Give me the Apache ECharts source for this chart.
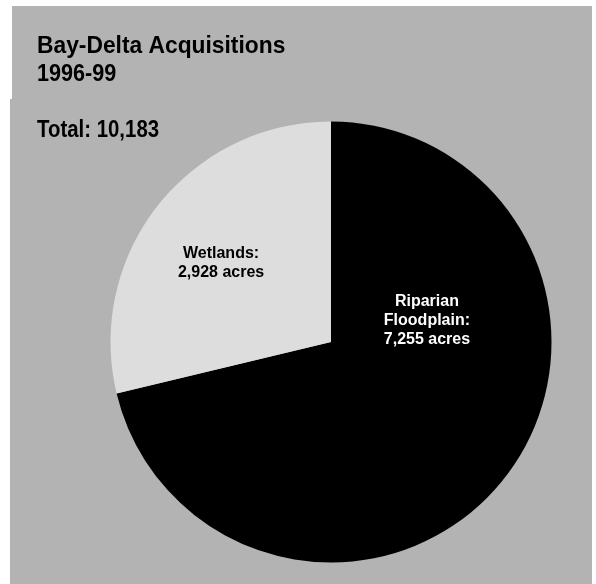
<!DOCTYPE html>
<html>
<head>
<meta charset="utf-8">
<script src="https://cdn.jsdelivr.net/npm/echarts@6/dist/echarts.min.js"></script>
<style>html,body{margin:0;padding:0;background:#fff}#c{width:596px;height:584px}</style>
</head>
<body>
<div id="c"></div>
<script>
const categories = ['Riparian\nFloodplain', 'Wetlands'];
const values = [7255, 2928];
const titleLines = ['Bay-Delta Acquisitions', '1996-99'];
const totalLabel = 'Total: 10,183';

const FONT = '"Liberation Sans", Arial, sans-serif';
const sliceColors = ['#000000', '#dddddd'];
const labelColors = ['#ffffff', '#000000'];
const labelOffsets = [[7, -92], [-21, -9]];

function titleText(text, top, sx) {
  return {type: 'text', x: 37, y: top, scaleX: sx, originX: 0,
    style: {text: text, font: 'bold 24px ' + FONT, fill: '#000', textVerticalAlign: 'top'}};
}

const chart = echarts.init(document.getElementById('c'), null, {renderer: 'canvas'});
chart.setOption({
  backgroundColor: '#ffffff',
  animation: false,
  graphic: [
    {type: 'rect', z: -10, shape: {x: 12, y: 6, width: 580, height: 94}, style: {fill: '#b3b3b3'}},
    {type: 'rect', z: -10, shape: {x: 10, y: 99, width: 582, height: 485}, style: {fill: '#b3b3b3'}},
    titleText(titleLines[0], 34, 0.95),
    titleText(titleLines[1], 62, 0.9),
    titleText(totalLabel, 118, 0.85)
  ],
  series: [{
    type: 'pie',
    center: [331, 342],
    radius: 220.5,
    startAngle: 90,
    clockwise: true,
    silent: true,
    labelLine: {show: false},
    data: categories.map((name, i) => ({
      name: name,
      value: values[i],
      itemStyle: {color: sliceColors[i]},
      label: {
        show: true,
        position: 'inside',
        offset: labelOffsets[i],
        color: labelColors[i],
        fontFamily: FONT,
        fontWeight: 'bold',
        fontSize: 16,
        lineHeight: 19,
        formatter: p => p.name + ':\n' + p.value.toLocaleString('en-US') + ' acres'
      }
    }))
  }]
});
</script>
</body>
</html>
